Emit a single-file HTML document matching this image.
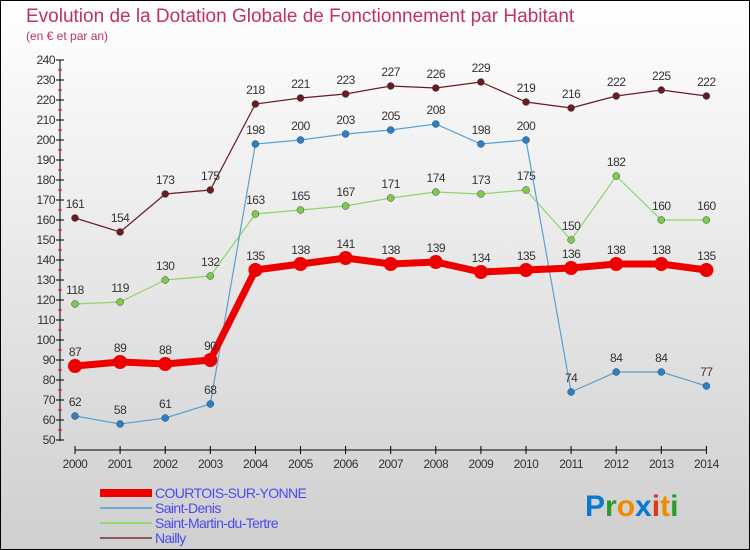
<!DOCTYPE html>
<html><head><meta charset="utf-8"><style>
body{margin:0}
#c{width:750px;height:550px;position:relative;background:linear-gradient(#ffffff,#cfcfcf);box-sizing:border-box;border:1px solid #000;font-family:"Liberation Sans",sans-serif;overflow:hidden}
</style></head><body>
<div id="c">
<svg id="s" width="750" height="550" style="position:absolute;left:-1px;top:-1px">
<text x="26" y="22" font-size="19" fill="#c0306a">Evolution de la Dotation Globale de Fonctionnement par Habitant</text>
<text x="26" y="40" font-size="12" fill="#c0306a">(en € et par an)</text>
<g id="g"></g>
<g font-size="30" font-weight="bold" style="font-family:'Liberation Sans',sans-serif">
<text x="585" y="516" fill="#0070d0" stroke="#bbb" stroke-width="0"><tspan fill="#0a78d0">P</tspan><tspan fill="#2a9a2a">r</tspan><tspan fill="#f08a00">o</tspan><tspan fill="#0a78d0">x</tspan><tspan fill="#e03a10">i</tspan><tspan fill="#f08a00">t</tspan><tspan fill="#2a9a2a">i</tspan></text>
</g>
</svg>
</div>
<script>
const years=[2000,2001,2002,2003,2004,2005,2006,2007,2008,2009,2010,2011,2012,2013,2014];
const courtois=[87,89,88,90,135,138,141,138,139,134,135,136,138,138,135];
const saintDenis=[62,58,61,68,198,200,203,205,208,198,200,74,84,84,77];
const saintMartin=[118,119,130,132,163,165,167,171,174,173,175,150,182,160,160];
const nailly=[161,154,173,175,218,221,223,227,226,229,219,216,222,225,222];
const yTicks=[50,60,70,80,90,100,110,120,130,140,150,160,170,180,190,200,210,220,230,240];
const names=["COURTOIS-SUR-YONNE","Saint-Denis","Saint-Martin-du-Tertre","Nailly"];
const NS="http://www.w3.org/2000/svg";
const g=document.getElementById('g');
function X(i){return 75+i*45.1;}
function Y(v){return 440-(v-50)*2;}
function el(t,a,p){const e=document.createElementNS(NS,t);for(const k in a)e.setAttribute(k,a[k]);(p||g).appendChild(e);return e;}
// axes
let ax=el('line',{x1:60,y1:60,x2:60,y2:441,stroke:'#000'});


let bx=el('line',{x1:75,y1:450,x2:X(14),y2:450,stroke:'#000'});


yTicks.forEach(v=>{
 el('line',{x1:56,y1:Y(v),x2:64,y2:Y(v),stroke:'#000'});
 if(v<240){let m=el('line',{x1:58,y1:Y(v+5),x2:62,y2:Y(v+5),stroke:'#e00'});}
 let t=el('text',{x:55,y:Y(v)+4,'text-anchor':'end','font-size':12,fill:'#333','letter-spacing':'-0.5'});t.textContent=v;
 
 
});
years.forEach((y,i)=>{
 el('line',{x1:X(i),y1:446,x2:X(i),y2:454,stroke:'#000'});
 let t=el('text',{x:X(i),y:468,'text-anchor':'middle','font-size':12,fill:'#333','letter-spacing':'-0.5'});t.textContent=y;
 
 
});
const series=[
 {d:nailly,c:'#6b1a22',w:1.2,r:3.5,f:'#6b1a22',n:'nailly'},
 {d:saintMartin,c:'#8cd46a',w:1.2,r:3.5,f:'#7ccc4a',n:'saint-martin'},
 {d:saintDenis,c:'#5aa0d0',w:1.2,r:3.5,f:'#2a80c8',n:'saint-denis'},
 {d:courtois,c:'#ee0000',w:7,r:7,f:'#ee0000',n:'courtois'}
];
series.forEach(s=>{
 let p=el('polyline',{points:s.d.map((v,i)=>X(i)+','+Y(v)).join(' '),fill:'none',stroke:s.c,'stroke-width':s.w});
 
 
 s.d.forEach((v,i)=>{
  let c=el('circle',{cx:X(i),cy:Y(v),r:s.r,fill:s.f,stroke:'#444','stroke-width':s.w>3?0:0.5});
  
  
  let t=el('text',{x:X(i),y:Y(v)-10,'text-anchor':'middle','font-size':12,fill:'#333','letter-spacing':'-0.5'});t.textContent=v;
  
  
 });
});
// legend
const lc=[['#ee0000',8],['#6fa8d0',2],['#94d870',2],['#8a5a5a',2]];
names.forEach((n,i)=>{
 let yy=493+i*15;
 let l=el('line',{x1:100,y1:yy,x2:152,y2:yy,stroke:lc[i][0],'stroke-width':lc[i][1]});
 
 
 let t=el('text',{x:155,y:yy+5,'font-size':14,fill:'#4a4aee','letter-spacing':'-0.6'});t.textContent=n;
 
 
});
</script>
</body></html>
